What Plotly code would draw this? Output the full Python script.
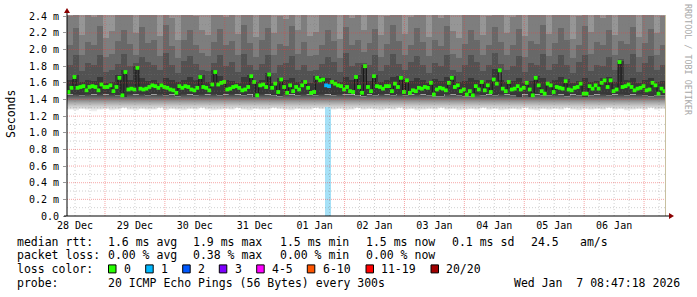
import plotly.graph_objects as go
import pandas as pd

# ---------------- data ----------------
START = pd.Timestamp("2025-12-28 08:47:18")
END = pd.Timestamp("2026-01-07 08:47:18")

# median rtt (ms), one value per 72 min step
median_rtt = [
    1.49, 1.54, 1.67, 1.54, 1.55, 1.56, 1.51, 1.55, 1.56, 1.55, 1.51, 1.58, 1.55, 1.55, 1.57, 1.50, 1.55, 1.66, 1.45, 1.73,
    1.52, 1.53, 1.52, 1.78, 1.53, 1.52, 1.53, 1.55, 1.57, 1.56, 1.54, 1.57, 1.55, 1.54, 1.52, 1.51, 1.48, 1.56, 1.54, 1.56,
    1.55, 1.52, 1.51, 1.54, 1.67, 1.55, 1.54, 1.51, 1.58, 1.73, 1.58, 1.60, 1.61, 1.52, 1.53, 1.55, 1.56, 1.54, 1.51, 1.52,
    1.55, 1.68, 1.61, 1.45, 1.57, 1.58, 1.55, 1.70, 1.54, 1.59, 1.49, 1.64, 1.55, 1.48, 1.57, 1.50, 1.55, 1.52, 1.57, 1.61,
    1.54, 1.48, 1.49, 1.66, 1.63, 1.64, 1.57, 1.56, 1.61, 1.59, 1.57, 1.56, 1.52, 1.55, 1.50, 1.49, 1.67, 1.55, 1.48, 1.80,
    1.55, 1.50, 1.68, 1.56, 1.55, 1.53, 1.56, 1.56, 1.50, 1.59, 1.55, 1.66, 1.49, 1.63, 1.48, 1.51, 1.50, 1.54, 1.53, 1.55,
    1.54, 1.60, 1.46, 1.52, 1.54, 1.53, 1.51, 1.60, 1.66, 1.55, 1.57, 1.50, 1.52, 1.46, 1.50, 1.45, 1.56, 1.52, 1.61, 1.51,
    1.57, 1.49, 1.64, 1.59, 1.75, 1.53, 1.50, 1.61, 1.52, 1.53, 1.56, 1.52, 1.54, 1.60, 1.52, 1.45, 1.66, 1.57, 1.50, 1.47,
    1.59, 1.57, 1.49, 1.55, 1.54, 1.53, 1.62, 1.52, 1.51, 1.54, 1.55, 1.59, 1.47, 1.47, 1.56, 1.53, 1.57, 1.53, 1.60, 1.63,
    1.55, 1.63, 1.50, 1.52, 1.85, 1.55, 1.56, 1.58, 1.55, 1.51, 1.53, 1.54, 1.56, 1.51, 1.52, 1.60, 1.57, 1.47, 1.53, 1.50,
]
# lost pings (out of 20) per step
loss_pings = [0] * 86 + [1, 1] + [0] * 112

# smoke layer boundaries (ms), one value per 144 min column
smoke_min = [
    1.28, 1.27, 1.29, 1.28, 1.26, 1.28, 1.29, 1.27, 1.28, 1.30, 1.28, 1.27, 1.29, 1.28, 1.28, 1.30, 1.27, 1.29, 1.28, 1.27,
    1.29, 1.28, 1.30, 1.28, 1.27, 1.28, 1.29, 1.28, 1.30, 1.28, 1.27, 1.29, 1.28, 1.28, 1.30, 1.29, 1.28, 1.27, 1.29, 1.28,
    1.28, 1.30, 1.29, 1.31, 1.28, 1.29, 1.27, 1.28, 1.30, 1.28, 1.29, 1.28, 1.27, 1.29, 1.28, 1.30, 1.28, 1.29, 1.27, 1.28,
    1.29, 1.28, 1.30, 1.28, 1.29, 1.27, 1.28, 1.29, 1.28, 1.30, 1.28, 1.29, 1.27, 1.28, 1.29, 1.28, 1.30, 1.28, 1.27, 1.29,
    1.28, 1.29, 1.28, 1.30, 1.28, 1.27, 1.29, 1.28, 1.29, 1.28, 1.30, 1.28, 1.29, 1.27, 1.28, 1.29, 1.28, 1.30, 1.28, 1.29,
]
smoke_lo = [
    1.46, 1.47, 1.45, 1.47, 1.46, 1.48, 1.46, 1.47, 1.45, 1.43, 1.47, 1.46, 1.47, 1.45, 1.46, 1.47, 1.45, 1.46, 1.44, 1.47,
    1.46, 1.45, 1.47, 1.46, 1.47, 1.45, 1.46, 1.47, 1.46, 1.45, 1.46, 1.43, 1.47, 1.46, 1.45, 1.44, 1.47, 1.46, 1.45, 1.47,
    1.46, 1.45, 1.47, 1.46, 1.45, 1.47, 1.46, 1.46, 1.45, 1.44, 1.46, 1.45, 1.47, 1.46, 1.45, 1.47, 1.45, 1.46, 1.47, 1.46,
    1.45, 1.44, 1.44, 1.47, 1.46, 1.45, 1.44, 1.44, 1.47, 1.45, 1.46, 1.45, 1.47, 1.46, 1.45, 1.43, 1.46, 1.43, 1.46, 1.45,
    1.45, 1.47, 1.46, 1.44, 1.46, 1.45, 1.43, 1.45, 1.46, 1.47, 1.45, 1.46, 1.47, 1.45, 1.46, 1.47, 1.45, 1.44, 1.45, 1.45,
]
smoke_hi1 = [
    1.63, 1.70, 1.61, 1.63, 1.62, 1.67, 1.60, 1.61, 1.69, 1.75, 1.63, 1.80, 1.66, 1.62, 1.64, 1.60, 1.66, 1.63, 1.61, 1.63,
    1.67, 1.64, 1.70, 1.61, 1.75, 1.68, 1.63, 1.62, 1.60, 1.67, 1.70, 1.61, 1.63, 1.72, 1.60, 1.66, 1.63, 1.66, 1.61, 1.63,
    1.60, 1.68, 1.67, 1.66, 1.63, 1.61, 1.67, 1.63, 1.69, 1.82, 1.62, 1.70, 1.61, 1.63, 1.67, 1.68, 1.65, 1.62, 1.66, 1.64,
    1.60, 1.65, 1.62, 1.67, 1.68, 1.61, 1.62, 1.66, 1.63, 1.61, 1.63, 1.77, 1.64, 1.61, 1.62, 1.66, 1.60, 1.62, 1.68, 1.66,
    1.61, 1.64, 1.67, 1.65, 1.60, 1.62, 1.66, 1.61, 1.62, 1.66, 1.67, 1.61, 1.87, 1.63, 1.66, 1.60, 1.63, 1.66, 1.61, 1.62,
]
smoke_hi2 = [
    1.82, 1.93, 1.74, 1.84, 1.81, 1.94, 1.73, 1.76, 1.83, 1.95, 1.80, 1.84, 1.91, 1.85, 1.82, 1.75, 1.96, 1.81, 1.72, 1.86,
    1.92, 1.83, 1.76, 1.74, 1.84, 1.93, 1.80, 1.85, 1.73, 1.95, 1.82, 1.75, 1.83, 1.94, 1.72, 1.81, 1.84, 1.92, 1.76, 1.82,
    1.74, 1.75, 1.83, 1.91, 1.85, 1.73, 1.96, 1.80, 1.84, 1.84, 1.81, 1.93, 1.74, 1.82, 1.95, 1.83, 1.76, 1.85, 1.92, 1.81,
    1.72, 1.84, 1.80, 1.94, 1.75, 1.73, 1.82, 1.93, 1.85, 1.74, 1.81, 1.96, 1.83, 1.76, 1.80, 1.92, 1.73, 1.84, 1.82, 1.95,
    1.75, 1.83, 1.93, 1.81, 1.72, 1.85, 1.94, 1.74, 1.82, 1.80, 1.91, 1.76, 1.89, 1.83, 1.95, 1.73, 1.84, 1.92, 1.75, 1.81,
]
smoke_hi3 = [
    2.06, 2.26, 1.93, 2.09, 2.05, 2.28, 1.91, 1.95, 2.10, 2.24, 2.07, 1.94, 2.27, 2.08, 2.11, 1.92, 2.29, 2.04, 1.90, 2.12,
    2.23, 2.06, 1.96, 1.92, 2.09, 2.25, 2.05, 2.10, 1.94, 2.30, 2.08, 1.91, 2.11, 2.26, 1.93, 2.07, 2.04, 2.28, 1.95, 2.09,
    1.92, 1.94, 2.06, 2.24, 2.10, 1.90, 2.27, 2.05, 2.12, 1.97, 2.08, 2.25, 1.91, 2.07, 2.29, 2.10, 1.93, 2.06, 2.26, 2.09,
    1.92, 2.11, 2.04, 2.28, 1.95, 1.90, 2.07, 2.24, 2.12, 1.93, 2.06, 2.27, 2.09, 1.94, 2.05, 2.25, 1.91, 2.10, 2.07, 2.29,
    1.92, 2.08, 2.26, 2.11, 1.90, 2.06, 2.28, 1.95, 2.09, 2.05, 2.24, 1.93, 2.10, 2.07, 2.27, 1.91, 2.08, 2.25, 1.94, 2.06,
]
smoke_hi4 = [
    2.40, 2.62, 2.18, 2.44, 2.39, 2.66, 2.14, 2.22, 2.46, 2.58, 2.41, 2.20, 2.63, 2.45, 2.42, 2.16, 2.68, 2.38, 2.12, 2.47,
    2.57, 2.40, 2.24, 2.17, 2.43, 2.60, 2.39, 2.45, 2.19, 2.70, 2.42, 2.15, 2.44, 2.61, 2.20, 2.40, 2.37, 2.64, 2.23, 2.43,
    2.16, 2.21, 2.41, 2.59, 2.46, 2.13, 2.65, 2.38, 2.47, 2.24, 2.42, 2.62, 2.17, 2.40, 2.67, 2.44, 2.19, 2.39, 2.60, 2.43,
    2.15, 2.45, 2.38, 2.63, 2.22, 2.14, 2.41, 2.58, 2.46, 2.18, 2.40, 2.66, 2.43, 2.20, 2.39, 2.61, 2.16, 2.44, 2.41, 2.68,
    2.19, 2.42, 2.62, 2.45, 2.13, 2.40, 2.64, 2.21, 2.43, 2.38, 2.59, 2.18, 2.46, 2.41, 2.65, 2.15, 2.42, 2.60, 2.20, 2.40,
]
smoke_max = 2.70

y_tick_vals = [0.0, 0.2, 0.4, 0.6, 0.8, 1.0, 1.2, 1.4, 1.6, 1.8, 2.0, 2.2, 2.4]
y_tick_text = ["0.0", "0.2 m", "0.4 m", "0.6 m", "0.8 m", "1.0 m", "1.2 m", "1.4 m",
               "1.6 m", "1.8 m", "2.0 m", "2.2 m", "2.4 m"]

loss_labels = ["0", "1", "2", "3", "4-5", "6-10", "11-19", "20/20"]
loss_colors = ["#26ff00", "#00b8ff", "#0059ff", "#7e00ff", "#ff00ff", "#ff5500", "#ff0000", "#a10000"]

rtt_stats = ["1.6 ms avg", "1.9 ms max", "1.5 ms min", "1.5 ms now", "0.1 ms sd", "24.5", "am/s"]
loss_stats = ["0.00 % avg", "0.38 % max", "0.00 % min", "0.00 % now"]
probe_text = "20 ICMP Echo Pings (56 Bytes) every 300s"
stamp_text = "Wed Jan  7 08:47:18 2026"

# ---------------- geometry ----------------
W, H = 697, 297
L, R, T, B = 67, 666, 15, 216
Y_TOP = 2.415
FONT = "DejaVu Sans Mono"


def px(x):
    return (x - L) / (R - L)


def py(y):
    return (B - y) / (B - T)


med_step = pd.Timedelta(minutes=72)
col_step = pd.Timedelta(minutes=144)
med_start = pd.date_range(START, periods=len(median_rtt), freq=med_step)
med_mid = med_start + med_step / 2
col_start = pd.date_range(START, periods=len(smoke_lo), freq=col_step)
col_mid = col_start + col_step / 2
col_w = col_step.total_seconds() * 1000
med_w = med_step.total_seconds() * 1000


def loss_color(n):
    if n == 0:
        return loss_colors[0]
    if n <= 3:
        return loss_colors[n]
    if n <= 5:
        return loss_colors[4]
    if n <= 10:
        return loss_colors[5]
    if n <= 19:
        return loss_colors[6]
    return loss_colors[7]


fig = go.Figure()

# lower smoke (gradient)
xs = list(col_start) + [END]
fig.add_trace(go.Scatter(x=xs, y=smoke_min + [smoke_min[-1]], mode="lines", line=dict(width=0, shape="hv"),
                         showlegend=False, hoverinfo="skip"))
fig.add_trace(go.Scatter(x=xs, y=smoke_lo + [smoke_lo[-1]], mode="lines", line=dict(width=0, shape="hv"),
                         fill="tonexty",
                         fillgradient=dict(type="vertical", start=1.27, stop=1.47,
                                           colorscale=[[0, "#eeeeee"], [0.25, "#cccccc"], [0.5, "#a0a0a0"],
                                                       [0.75, "#6a6a6a"], [1, "#3a3a3a"]]),
                         showlegend=False, hoverinfo="skip"))

# upper smoke bands as bars
bands = [
    (smoke_lo, smoke_hi1, "#383838"),
    (smoke_hi1, smoke_hi2, "#525252"),
    (smoke_hi2, smoke_hi3, "#686868"),
    (smoke_hi3, smoke_hi4, "#7e7e7e"),
    (smoke_hi4, [smoke_max] * len(smoke_hi4), "#969696"),
]
for lo, hi, col in bands:
    fig.add_trace(go.Bar(x=col_mid, base=lo, y=[h - l for l, h in zip(lo, hi)], width=col_w,
                         marker=dict(color=col, line=dict(width=0)), showlegend=False, hoverinfo="skip"))

# loss background bar
loss_x = [t for t, n in zip(med_mid, loss_pings) if n > 0]
loss_y = [smoke_min[i // 2] for i, n in enumerate(loss_pings) if n > 0]
fig.add_trace(go.Bar(x=loss_x, y=loss_y, width=med_w, marker=dict(color="#a6e1f7", line=dict(width=0)),
                     showlegend=False, hoverinfo="skip"))

# median line
fig.add_trace(go.Scatter(x=list(med_start) + [END], y=median_rtt + [median_rtt[-1]], mode="lines",
                         line=dict(color="#1a1a1a", width=1, shape="hv"), showlegend=False, hoverinfo="skip"))
fig.add_trace(go.Scatter(x=med_mid, y=median_rtt, mode="markers",
                         marker=dict(symbol="square", size=3.8, color=[loss_color(n) for n in loss_pings],
                                     line=dict(width=0)),
                         showlegend=False, hoverinfo="skip"))

shapes = []
# grid
t = START.ceil("6h")
while t < END:
    major = t.hour == 0
    shapes.append(dict(type="line", xref="x", yref="paper", x0=t, x1=t, y0=0, y1=1, layer="above",
                       line=dict(color="rgba(235,60,60,0.45)" if major else "rgba(120,120,120,0.35)",
                                 width=1, dash="1px,1px" if major else "1px,2px")))
    t += pd.Timedelta(hours=6)
for k in range(1, 25):
    v = k / 10
    major = k % 2 == 0
    shapes.append(dict(type="line", xref="paper", yref="y", x0=0, x1=1, y0=v, y1=v, layer="above",
                       line=dict(color="rgba(235,60,60,0.45)" if major else "rgba(120,120,120,0.35)",
                                 width=1, dash="1px,1px" if major else "1px,2px")))

# axes lines and arrows
shapes.append(dict(type="line", xref="paper", yref="paper", x0=px(R - 0.5), x1=px(R - 0.5), y0=0, y1=1,
                   line=dict(color="#c8c0a0", width=1)))
shapes.append(dict(type="line", xref="paper", yref="paper", x0=px(L - 3), x1=px(669), y0=0, y1=0,
                   line=dict(color="black", width=1)))
shapes.append(dict(type="line", xref="paper", yref="paper", x0=0, x1=0, y0=0, y1=py(12),
                   line=dict(color="black", width=1)))
shapes.append(dict(type="path", xref="paper", yref="paper",
                   path=f"M {px(L-3)},{py(13)} L {px(L+3)},{py(13)} L {px(L)},{py(8)} Z",
                   fillcolor="#8b0000", line=dict(width=0)))
shapes.append(dict(type="path", xref="paper", yref="paper",
                   path=f"M {px(669)},{py(213)} L {px(669)},{py(219)} L {px(674)},{py(216)} Z",
                   fillcolor="#8b0000", line=dict(width=0)))

annotations = []


def text(x, y, s, size=11.5, color="black", anchor="left", angle=0):
    annotations.append(dict(x=px(x), y=py(y), xref="paper", yref="paper", text=s, showarrow=False,
                            xanchor=anchor, yanchor="middle", textangle=angle,
                            font=dict(family=FONT, size=size, color=color)))


text(11, 114, "Seconds", size=11.5, anchor="center", angle=-90)
text(688, 60, "RRDTOOL / TOBI OETIKER", size=8.4, color="#a8a8a8", anchor="center", angle=90)

col_x = [107.3, 192.7, 279.3, 365.7, 451, 530, 579.3]
row_y = [241.7, 255.2, 268.9, 282.5]
text(16.7 - 1.5, row_y[0], "median rtt:")
for x, s in zip(col_x, rtt_stats):
    text(x - 1.5, row_y[0], s)
text(16.7 - 1.5, row_y[1], "packet loss:")
for x, s in zip(col_x, loss_stats):
    text(x - 1.5, row_y[1], s)
text(16.7 - 1.5, row_y[2], "loss color:")
box_x = [108.5, 145.7, 182.7, 219.3, 256.7, 307.3, 366, 431]
for bx, lab, col in zip(box_x, loss_labels, loss_colors):
    shapes.append(dict(type="rect", xref="paper", yref="paper", x0=px(bx), x1=px(bx + 7.5),
                       y0=py(row_y[2] + 4), y1=py(row_y[2] - 4), fillcolor=col,
                       line=dict(color="black", width=1)))
    text(bx + 14.8 - 1.5, row_y[2], lab)
text(16.7 - 1.5, row_y[3], "probe:")
text(107.3 - 1.5, row_y[3], probe_text)
text(513.3 - 1.5, row_y[3], stamp_text)

noon_ticks = pd.date_range("2025-12-28 12:00", "2026-01-06 12:00", freq="1D")

fig.update_layout(
    width=W, height=H, autosize=False,
    margin=dict(l=L, r=W - R, t=T, b=H - B, pad=0),
    paper_bgcolor="white", plot_bgcolor="white",
    barmode="overlay", bargap=0,
    showlegend=False,
    shapes=shapes, annotations=annotations,
    font=dict(family=FONT, size=10, color="black"),
    xaxis=dict(type="date", range=[START, END], tickvals=noon_ticks, tickformat="%d %b",
               ticks="", showgrid=False, zeroline=False, showline=False,
               tickfont=dict(family=FONT, size=10, color="black"), ticklabelstandoff=2),
    yaxis=dict(range=[0, Y_TOP], tickvals=y_tick_vals, ticktext=y_tick_text,
               ticks="outside", ticklen=3, tickcolor="#999999", showgrid=False, zeroline=False,
               showline=False, tickfont=dict(family=FONT, size=10, color="black"), ticklabelstandoff=2),
)

fig.write_html("out.html")
